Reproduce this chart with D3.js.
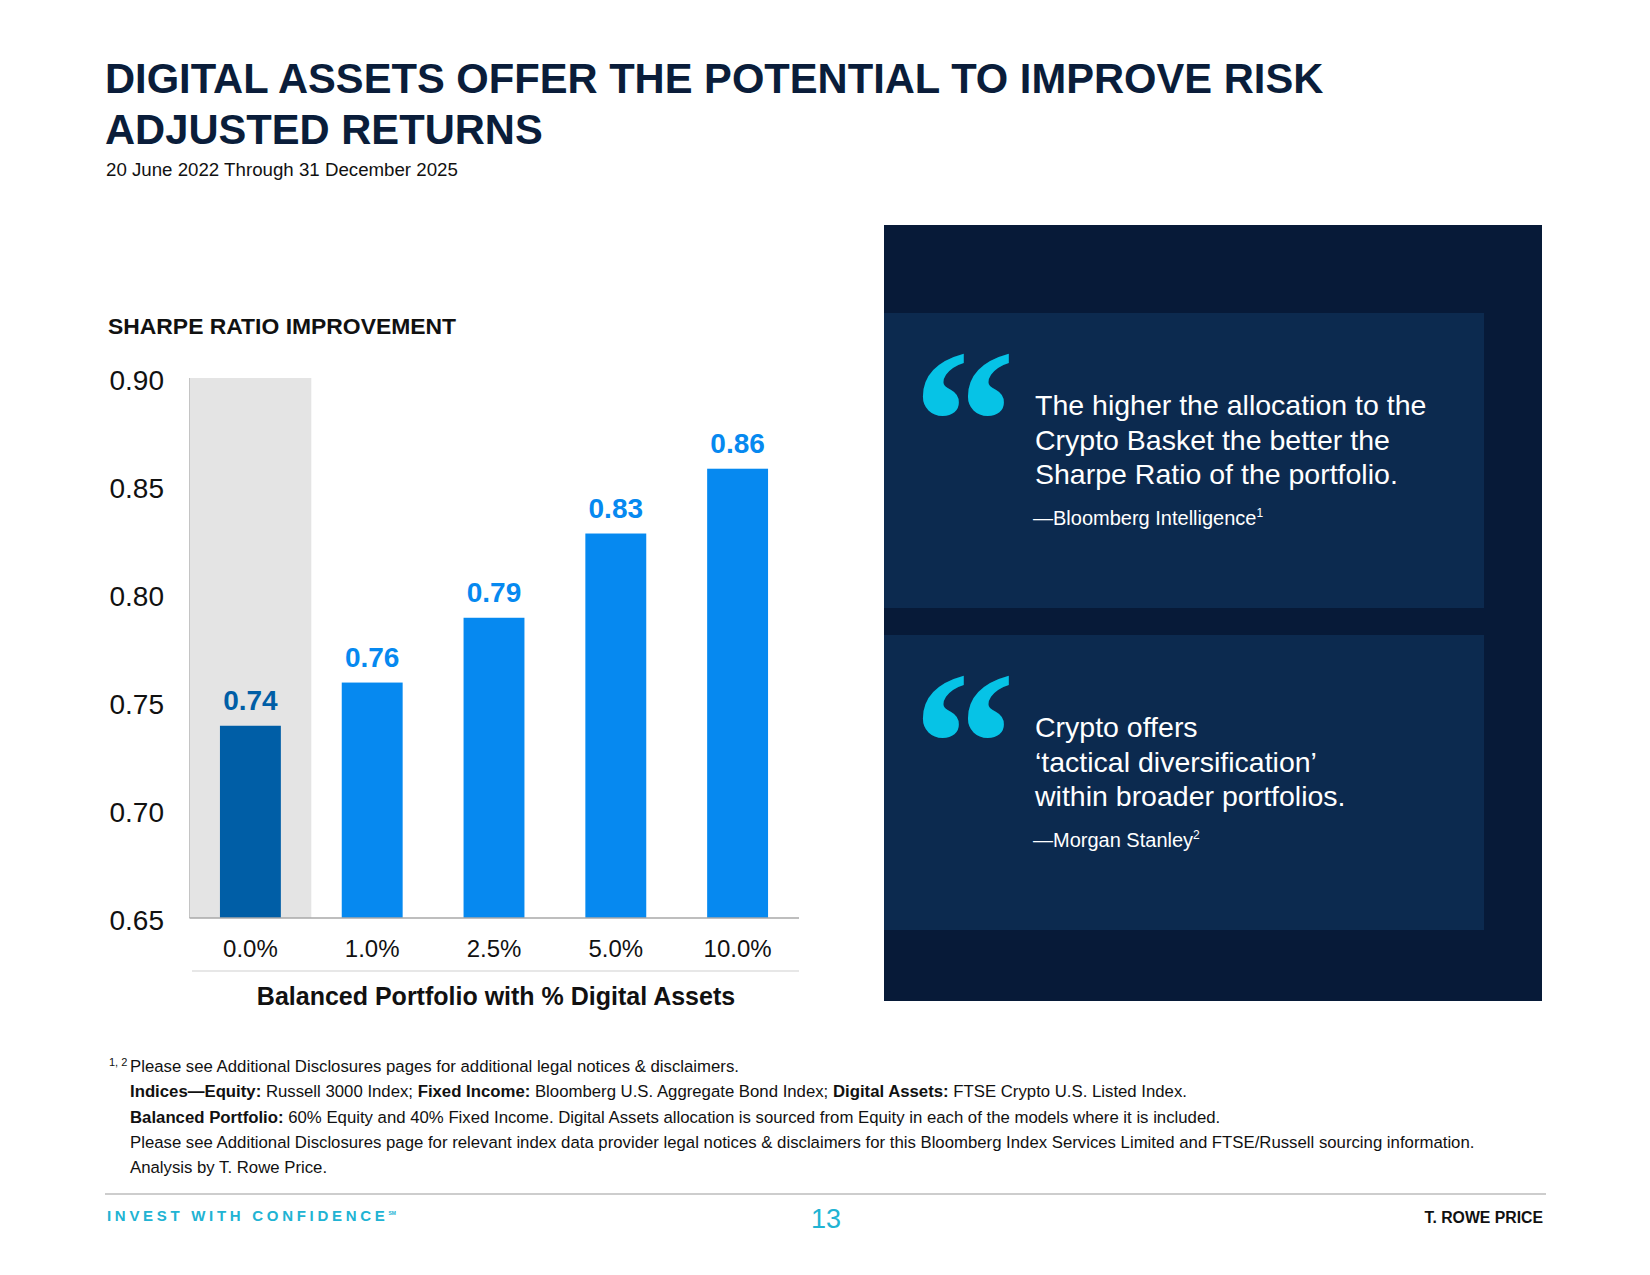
<!DOCTYPE html>
<html>
<head>
<meta charset="utf-8">
<script src="https://cdn.jsdelivr.net/npm/d3@7"></script>
<style>
  body { margin: 0; background: #fff; }
  text { font-family: "Liberation Sans", Arial, sans-serif; }
</style>
</head>
<body>
<script>
// values; labels show them rounded
var categories = ["0.0%", "1.0%", "2.5%", "5.0%", "10.0%"];
var sharpe = [0.739, 0.759, 0.789, 0.828, 0.858];
var yTicks = [0.65, 0.70, 0.75, 0.80, 0.85, 0.90];

var titleLines = ["DIGITAL ASSETS OFFER THE POTENTIAL TO IMPROVE RISK", "ADJUSTED RETURNS"];
var subtitle = "20 June 2022 Through 31 December 2025";
var chartTitle = "SHARPE RATIO IMPROVEMENT";
var xTitle = "Balanced Portfolio with % Digital Assets";

var quotes = [
  {lines: ["The higher the allocation to the", "Crypto Basket the better the", "Sharpe Ratio of the portfolio."], source: "\u2014Bloomberg Intelligence", note: "1"},
  {lines: ["Crypto offers", "\u2018tactical diversification\u2019", "within broader portfolios."], source: "\u2014Morgan Stanley", note: "2"}
];

// each footnote line is a list of [text, bold] pieces
var footnotes = [
  [["Please see Additional Disclosures pages for additional legal notices & disclaimers.", false]],
  [["Indices\u2014Equity:", true], [" Russell 3000 Index; ", false], ["Fixed Income:", true], [" Bloomberg U.S. Aggregate Bond Index; ", false], ["Digital Assets:", true], [" FTSE Crypto U.S. Listed Index.", false]],
  [["Balanced Portfolio:", true], [" 60% Equity and 40% Fixed Income. Digital Assets allocation is sourced from Equity in each of the models where it is included.", false]],
  [["Please see Additional Disclosures page for relevant index data provider legal notices & disclaimers for this Bloomberg Index Services Limited and FTSE/Russell sourcing information.", false]],
  [["Analysis by T. Rowe Price.", false]]
];

var navy = "#0a1d3a";

var svg = d3.select("body").append("svg")
    .attr("width", 1650)
    .attr("height", 1275);

// title block
svg.selectAll(".title")
  .data(titleLines)
  .enter().append("text")
    .attr("class", "title")
    .attr("x", 105)
    .attr("y", (d, i) => 93 + i * 51)
    .attr("font-size", 41.7)
    .attr("font-weight", "bold")
    .attr("fill", navy)
    .text(d => d);

svg.append("text")
    .attr("x", 106).attr("y", 176)
    .attr("font-size", 18.7)
    .attr("fill", "#111")
    .text(subtitle);

svg.append("text")
    .attr("x", 108).attr("y", 334)
    .attr("font-size", 22.9)
    .attr("font-weight", "bold")
    .attr("fill", "#111")
    .text(chartTitle);

// chart
var x = d3.scaleBand()
    .domain(categories)
    .range([189.5, 798.5])
    .paddingInner(0.5)
    .paddingOuter(0.25);

var y = d3.scaleLinear()
    .domain([0.65, 0.90])
    .range([918, 378]);

// grey highlight behind the 0% bar
svg.append("rect")
    .attr("x", x.range()[0])
    .attr("y", y(0.90))
    .attr("width", x.step())
    .attr("height", y(0.65) - y(0.90))
    .attr("fill", "#e4e4e4");
svg.append("line")
    .attr("x1", x.range()[0]).attr("x2", x.range()[0])
    .attr("y1", y(0.90)).attr("y2", y(0.65))
    .attr("stroke", "#c4c4c4");

svg.selectAll(".bar")
  .data(sharpe)
  .enter().append("rect")
    .attr("class", "bar")
    .attr("x", (d, i) => x(categories[i]))
    .attr("y", d => y(d))
    .attr("width", x.bandwidth())
    .attr("height", d => y(0.65) - y(d))
    .attr("fill", (d, i) => i == 0 ? "#005ea6" : "#0689f0");

svg.selectAll(".val")
  .data(sharpe)
  .enter().append("text")
    .attr("class", "val")
    .attr("x", (d, i) => x(categories[i]) + x.bandwidth() / 2)
    .attr("y", d => y(d) - 16)
    .attr("text-anchor", "middle")
    .attr("font-size", 28)
    .attr("font-weight", "bold")
    .attr("fill", (d, i) => i == 0 ? "#005ea6" : "#0689f0")
    .text(d => d3.format(".2f")(d));

var y_axis = d3.axisLeft(y)
    .tickValues(yTicks)
    .tickSize(0)
    .tickFormat(d3.format(".2f"));

var yg = svg.append("g")
    .attr("transform", "translate(164,0)")
    .call(y_axis);
yg.select(".domain").remove();
yg.selectAll("text")
    .attr("x", 0)
    .attr("dy", "0.42em")
    .attr("font-size", 28)
    .attr("font-family", "Liberation Sans, Arial, sans-serif")
    .attr("fill", "#111");

var x_axis = d3.axisBottom(x).tickSize(0);
var xg = svg.append("g")
    .attr("transform", "translate(0," + y(0.65) + ")")
    .call(x_axis);
xg.select(".domain").remove();
xg.selectAll("text")
    .attr("y", 39)
    .attr("dy", 0)
    .attr("font-size", 24)
    .attr("font-family", "Liberation Sans, Arial, sans-serif")
    .attr("fill", "#111");

svg.append("line")
    .attr("x1", x.range()[0]).attr("x2", 799)
    .attr("y1", y(0.65)).attr("y2", y(0.65))
    .attr("stroke", "#a8a8a8")
    .attr("stroke-width", 1.5);

svg.append("line")
    .attr("x1", 192).attr("x2", 799)
    .attr("y1", 971).attr("y2", 971)
    .attr("stroke", "#cfcfcf")
    .attr("stroke-width", 1.2);

svg.append("text")
    .attr("x", 496).attr("y", 1005)
    .attr("text-anchor", "middle")
    .attr("font-size", 25)
    .attr("font-weight", "bold")
    .attr("fill", "#111")
    .text(xTitle);

// quote panel
svg.append("rect")
    .attr("x", 884).attr("y", 225)
    .attr("width", 658).attr("height", 776)
    .attr("fill", "#071a38");

var boxTops = [313, 635];

quotes.forEach(function(q, k) {
  var top = boxTops[k];
  svg.append("rect")
      .attr("x", 884).attr("y", top)
      .attr("width", 600).attr("height", 295)
      .attr("fill", "#0c2a4f");

  svg.append("text")
      .attr("x", 913).attr("y", top + 178)
      .style("font-family", "'Liberation Serif', 'Times New Roman', serif")
      .attr("font-size", 205)
      .attr("font-weight", "bold")
      .attr("fill", "#06c3e6")
      .text("\u201C");

  svg.selectAll(".q" + k)
    .data(q.lines)
    .enter().append("text")
      .attr("x", 1035)
      .attr("y", (d, i) => top + 102 + i * 34.5)
      .attr("font-size", 28.5)
      .attr("fill", "#fff")
      .text(d => d);

  var src = svg.append("text")
      .attr("x", 1033)
      .attr("y", top + 212)
      .attr("font-size", 20)
      .attr("fill", "#fff")
      .text(q.source);
  src.append("tspan")
      .attr("dy", -8)
      .attr("font-size", 12)
      .text(q.note);
});

// footnotes
svg.append("text")
    .attr("x", 109).attr("y", 1066)
    .attr("font-size", 11)
    .attr("fill", "#111")
    .text("1, 2");

footnotes.forEach(function(line, i) {
  var t = svg.append("text")
      .attr("x", 130)
      .attr("y", 1072 + i * 25.3)
      .attr("font-size", 16.75)
      .attr("fill", "#111");
  line.forEach(function(p) {
    t.append("tspan")
        .attr("font-weight", p[1] ? "bold" : "normal")
        .text(p[0]);
  });
});

// footer
svg.append("line")
    .attr("x1", 105).attr("x2", 1546)
    .attr("y1", 1194).attr("y2", 1194)
    .attr("stroke", "#bdbdbd")
    .attr("stroke-width", 1.3);

var inv = svg.append("text")
    .attr("x", 107).attr("y", 1221)
    .attr("font-size", 15)
    .attr("font-weight", "bold")
    .attr("letter-spacing", 3.7)
    .attr("fill", "#21b3d3")
    .text("INVEST WITH CONFIDENCE");
inv.append("tspan")
    .attr("dy", -6)
    .attr("font-size", 5)
    .attr("letter-spacing", 0)
    .text("SM");

svg.append("text")
    .attr("x", 826).attr("y", 1228)
    .attr("text-anchor", "middle")
    .attr("font-size", 27)
    .attr("fill", "#21b3d3")
    .text("13");

svg.append("text")
    .attr("x", 1543).attr("y", 1223)
    .attr("text-anchor", "end")
    .attr("font-size", 15.8)
    .attr("font-weight", "bold")
    .attr("fill", "#111")
    .text("T. ROWE PRICE");
</script>
</body>
</html>
